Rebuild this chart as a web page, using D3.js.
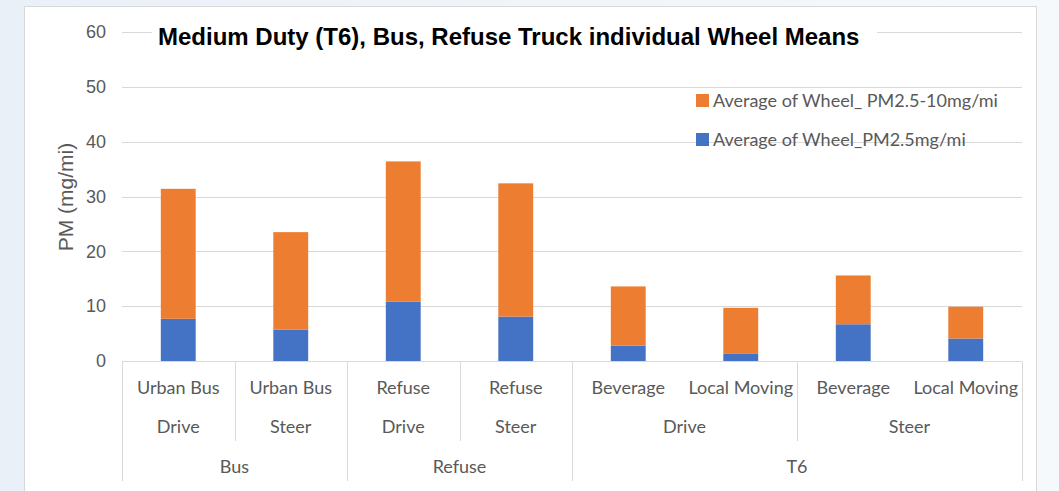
<!DOCTYPE html>
<html>
<head>
<meta charset="utf-8">
<script src="https://cdn.jsdelivr.net/npm/d3@7"></script>
<style>
  html, body { margin: 0; padding: 0; background: #fff; }
  svg { display: block; }
</style>
</head>
<body>
<div id="chart"></div>
<script>
// Category hierarchy (outer group, wheel position, vehicle)
const groups = ['Bus', 'Bus', 'Refuse', 'Refuse', 'T6', 'T6', 'T6', 'T6'];
const positions = ['Drive', 'Steer', 'Drive', 'Steer', 'Drive', 'Drive', 'Steer', 'Steer'];
const vehicles = ['Urban Bus', 'Urban Bus', 'Refuse', 'Refuse', 'Beverage', 'Local Moving', 'Beverage', 'Local Moving'];

// Series values (mg/mi)
const pm25 = [7.7, 5.7, 10.8, 8.1, 2.8, 1.3, 6.7, 4.1];
const pm25to10 = [23.7, 17.8, 25.6, 24.3, 10.8, 8.4, 8.9, 5.8];

const yTicks = [0, 10, 20, 30, 40, 50, 60];
const seriesNames = ['Average of Wheel_PM2.5mg/mi', 'Average of Wheel_ PM2.5-10mg/mi'];
const seriesColors = ['#4472C4', '#ED7D31'];
const title = 'Medium Duty (T6), Bus, Refuse Truck individual Wheel Means';

const width = 1059;
const height = 491;
const margin = {left: 122, right: 37, top: 32, bottom: 130};

const svg = d3.select('#chart').append('svg')
  .attr('width', width)
  .attr('height', height);

// slide background on the left, chart area box
const grad = svg.append('defs').append('linearGradient')
  .attr('id', 'bg').attr('x1', 0).attr('x2', 1).attr('y1', 0).attr('y2', 0);
grad.append('stop').attr('offset', '0%').attr('stop-color', '#e9f0f7');
grad.append('stop').attr('offset', '100%').attr('stop-color', '#f6f9fc');
svg.append('rect').attr('width', width).attr('height', height).attr('fill', 'url(#bg)');
svg.append('rect')
  .attr('x', 24.5).attr('y', 6.5)
  .attr('width', 1012).attr('height', 500)
  .attr('fill', '#fff')
  .attr('stroke', '#d9d9d9');

const x = d3.scaleBand()
  .domain(d3.range(vehicles.length))
  .range([margin.left, width - margin.right])
  .paddingInner(0.69)
  .paddingOuter(0.345);

const y = d3.scaleLinear()
  .domain([0, 60])
  .range([361, margin.top]);

// gridlines
svg.append('g')
  .selectAll('line')
  .data(yTicks.filter(d => d > 0))
  .join('line')
  .attr('x1', margin.left).attr('x2', width - margin.right)
  .attr('y1', d => Math.round(y(d)) + 0.5).attr('y2', d => Math.round(y(d)) + 0.5)
  .attr('stroke', '#d9d9d9');

// y tick labels
svg.append('g')
  .selectAll('text')
  .data(yTicks)
  .join('text')
  .attr('x', 106)
  .attr('y', d => y(d))
  .attr('dy', '0.35em')
  .attr('text-anchor', 'end')
  .attr('fill', '#595959')
  .style('font', '18px "Liberation Sans", Arial, sans-serif')
  .text(d => d);

// y axis title
svg.append('text')
  .attr('transform', 'translate(66,197) rotate(-90)')
  .attr('text-anchor', 'middle')
  .attr('dy', '0.35em')
  .attr('fill', '#595959')
  .style('font', '21px "Liberation Sans", Arial, sans-serif')
  .text('PM (mg/mi)');

// stacked bars
const rows = vehicles.map((v, i) => ({i: i, pm25: pm25[i], pm25to10: pm25to10[i]}));
const stack = d3.stack().keys(['pm25', 'pm25to10'])(rows);

svg.append('g')
  .selectAll('g')
  .data(stack)
  .join('g')
  .attr('fill', (d, k) => seriesColors[k])
  .selectAll('rect')
  .data(d => d)
  .join('rect')
  .attr('x', d => x(d.data.i))
  .attr('width', x.bandwidth())
  .attr('y', d => y(d[1]))
  .attr('height', d => y(d[0]) - y(d[1]));

// category axis line
const axisY = 361.5;
svg.append('line')
  .attr('x1', margin.left).attr('x2', width - margin.right)
  .attr('y1', axisY).attr('y2', axisY)
  .attr('stroke', '#d9d9d9');

// multi-level separators
const step = x.step();
const x0 = margin.left;
const level2Bottom = 441;
const level3Bottom = 481;
const seps = [];
for (let i = 0; i <= vehicles.length; i++) {
  let bottom = null;
  if (i === 0 || i === vehicles.length || groups[i] !== groups[i - 1]) {
    bottom = level3Bottom;
  } else if (positions[i] !== positions[i - 1]) {
    bottom = level2Bottom;
  }
  if (bottom) seps.push({xv: Math.round(x0 + i * step) + 0.5, bottom: bottom});
}
svg.append('g')
  .selectAll('line')
  .data(seps)
  .join('line')
  .attr('x1', d => d.xv).attr('x2', d => d.xv)
  .attr('y1', axisY).attr('y2', d => d.bottom)
  .attr('stroke', '#d9d9d9');

const labelFont = '18px Lato, "Open Sans", sans-serif';

// spans of equal consecutive values
function spans(keyFn) {
  const out = [];
  for (let i = 0; i < vehicles.length; i++) {
    const k = keyFn(i);
    if (out.length && out[out.length - 1].key === k) {
      out[out.length - 1].end = i;
    } else {
      out.push({key: k, start: i, end: i});
    }
  }
  return out;
}

// row 1: vehicle labels
svg.append('g')
  .selectAll('text')
  .data(vehicles)
  .join('text')
  .attr('x', (d, i) => x0 + (i + 0.5) * step)
  .attr('y', 388)
  .attr('dy', '0.35em')
  .attr('text-anchor', 'middle')
  .attr('fill', '#595959')
  .style('font', labelFont)
  .text(d => d);

// row 2: wheel position
const posSpans = spans(i => groups[i] + '|' + positions[i] + '|' + (groups[i] === 'T6' ? '' : vehicles[i]));
svg.append('g')
  .selectAll('text')
  .data(posSpans)
  .join('text')
  .attr('x', d => x0 + (d.start + d.end + 1) / 2 * step)
  .attr('y', 427)
  .attr('dy', '0.35em')
  .attr('text-anchor', 'middle')
  .attr('fill', '#595959')
  .style('font', labelFont)
  .text(d => positions[d.start]);

// row 3: outer group
const groupSpans = spans(i => groups[i]);
svg.append('g')
  .selectAll('text')
  .data(groupSpans)
  .join('text')
  .attr('x', d => x0 + (d.start + d.end + 1) / 2 * step)
  .attr('y', 467)
  .attr('dy', '0.35em')
  .attr('text-anchor', 'middle')
  .attr('fill', '#595959')
  .style('font', labelFont)
  .text(d => d.key);

// title with white backing over the top gridline
svg.append('rect')
  .attr('x', 152).attr('y', 20)
  .attr('width', 725).attr('height', 32)
  .attr('fill', '#fff');
svg.append('text')
  .attr('x', 158)
  .attr('y', 45)
  .attr('fill', '#000')
  .style('font', 'bold 24px "Liberation Sans", Arial, sans-serif')
  .text(title);

// legend (reverse order, orange on top)
const legend = svg.append('g')
  .selectAll('g')
  .data([1, 0])
  .join('g')
  .attr('transform', (d, k) => 'translate(696,' + (94 + k * 39) + ')');
legend.append('rect')
  .attr('width', 13).attr('height', 13)
  .attr('fill', d => seriesColors[d]);
legend.append('text')
  .attr('x', 17)
  .attr('y', 6.5)
  .attr('dy', '0.35em')
  .attr('fill', '#595959')
  .style('font', labelFont)
  .text(d => seriesNames[d]);
</script>
</body>
</html>
